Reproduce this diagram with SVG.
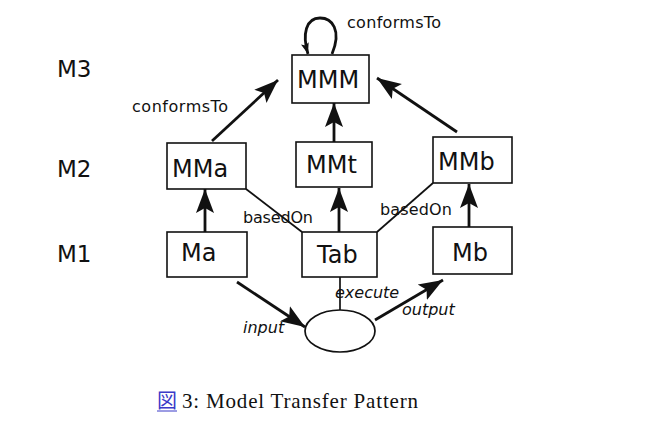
<svg xmlns="http://www.w3.org/2000/svg" width="657" height="426" viewBox="0 0 657 426">
<style>
.box{fill:#fff;stroke:#111;stroke-width:1.6}
.bl{font-family:"DejaVu Sans",sans-serif;font-size:24px;fill:#111}
.lv{font-family:"DejaVu Sans",sans-serif;font-size:23px;fill:#111}
.lb{font-family:"DejaVu Sans",sans-serif;font-size:16px;fill:#111}
.it{font-style:italic}
.ar{fill:none;stroke:#111;stroke-width:2.8}
.th{fill:none;stroke:#111;stroke-width:1.7}
.cap{font-family:"Liberation Serif",serif;font-size:21px;fill:#111}
</style>
<defs>
<marker id="ah" markerUnits="userSpaceOnUse" markerWidth="26" markerHeight="20" refX="24" refY="9" orient="auto" viewBox="0 0 26 18">
<path d="M0,0 L24,9 L0,18 L5,9 z" fill="#111"/>
</marker>
<marker id="ahs" markerUnits="userSpaceOnUse" markerWidth="12" markerHeight="10" refX="11" refY="4" orient="auto" viewBox="0 0 12 8">
<path d="M0,0 L11,4 L0,8 L2,4 z" fill="#111"/>
</marker>
</defs>
<rect width="657" height="426" fill="#fff"/>
<g id="levels">
<text class="lv" x="57" y="77">M3</text>
<text class="lv" x="57" y="177">M2</text>
<text class="lv" x="57" y="262">M1</text>
</g>
<g id="connectors">
<path class="ar" d="M332,54 C342,30 332,18 320,18 C306,18 302,34 308,54" marker-end="url(#ahs)"/>
<path class="ar" d="M334,142 L334,103" marker-end="url(#ah)"/>
<path class="ar" d="M212,141 L278,80" marker-end="url(#ah)"/>
<path class="ar" d="M457,132 L377,78" marker-end="url(#ah)"/>
<path class="ar" d="M205,232 L205,189" marker-end="url(#ah)"/>
<path class="ar" d="M339,232 L339,188" marker-end="url(#ah)"/>
<path class="ar" d="M469,227 L469,184" marker-end="url(#ah)"/>
<path class="ar" d="M237,282 L305,327" marker-end="url(#ah)"/>
<path class="ar" d="M375,320 L443,280" marker-end="url(#ah)"/>
<path class="th" d="M340,277 L340,310"/>
<path class="th" d="M246,189 L302,232"/>
<path class="th" d="M377,232 L433,183"/>
<text class="lb" x="347" y="28" textLength="94">conformsTo</text>
<text class="lb" x="132" y="112" textLength="96">conformsTo</text>
<text class="lb" x="243" y="223" textLength="70">basedOn</text>
<text class="lb" x="380" y="215" textLength="72">basedOn</text>
<text class="lb it" x="243" y="333">input</text>
<text class="lb it" x="335" y="298">execute</text>
<text class="lb it" x="402" y="315">output</text>
</g>
<g id="MMM"><rect class="box" x="292" y="55" width="77" height="48"/><text class="bl" x="297" y="88">MMM</text></g>
<g id="MMa"><rect class="box" x="167" y="143" width="79" height="46"/><text class="bl" x="172" y="177">MMa</text></g>
<g id="MMt"><rect class="box" x="296" y="142" width="76" height="45"/><text class="bl" x="306" y="173">MMt</text></g>
<g id="MMb"><rect class="box" x="433" y="137" width="79" height="46"/><text class="bl" x="438" y="170">MMb</text></g>
<g id="Ma"><rect class="box" x="167" y="232" width="80" height="45"/><text class="bl" x="181" y="261">Ma</text></g>
<g id="Tab"><rect class="box" x="302" y="232" width="75" height="45"/><text class="bl" x="317" y="263">Tab</text></g>
<g id="Mb"><rect class="box" x="433" y="227" width="79" height="47"/><text class="bl" x="452" y="261">Mb</text></g>
<g id="exec"><ellipse class="th" cx="340" cy="331" rx="35" ry="21" fill="#fff"/></g>
<g id="caption">
<text x="157" y="408" font-family="'Noto Sans CJK JP',sans-serif" font-size="20" fill="#3b3bc8">図</text>
<line x1="157" y1="411" x2="177" y2="411" stroke="#3b3bc8" stroke-width="1"/>
<text class="cap" x="182" y="408" textLength="236">3: Model Transfer Pattern</text>
</g>
</svg>
